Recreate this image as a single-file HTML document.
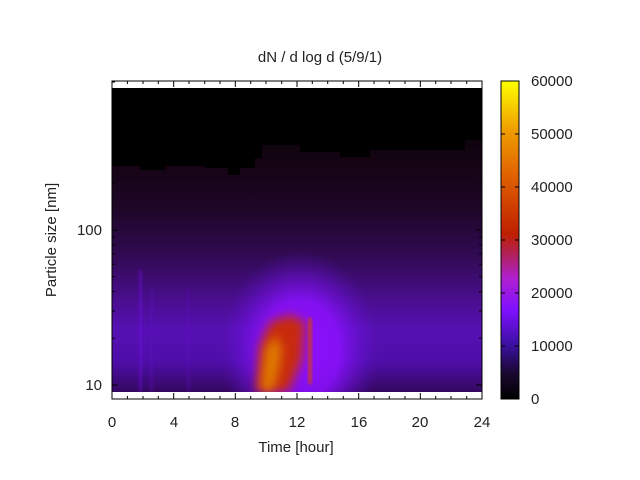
<!DOCTYPE html>
<html><head><style>body{margin:0;background:#fff}svg{display:block}text{font-family:"Liberation Sans","DejaVu Sans",sans-serif;font-size:15px;fill:#222}</style></head>
<body>
<svg width="640" height="480" viewBox="0 0 640 480">
<defs>
<linearGradient id="bg" x1="0" y1="88" x2="0" y2="392" gradientUnits="userSpaceOnUse">
<stop offset="0" stop-color="#000"/>
<stop offset="0.25" stop-color="#150414"/>
<stop offset="0.4" stop-color="#1e0628"/>
<stop offset="0.55" stop-color="#300a52"/>
<stop offset="0.7" stop-color="#4a0e90"/>
<stop offset="0.8" stop-color="#5610b4"/>
<stop offset="0.9" stop-color="#4e0ea8"/>
<stop offset="1" stop-color="#340860"/>
</linearGradient>
<radialGradient id="vio" cx="300" cy="350" r="80" gradientUnits="userSpaceOnUse" gradientTransform="translate(300 350) scale(1 1.25) translate(-300 -350)">
<stop offset="0" stop-color="#9010ff" stop-opacity="1"/>
<stop offset="0.5" stop-color="#8c10ff" stop-opacity="0.85"/>
<stop offset="0.8" stop-color="#7010e0" stop-opacity="0.35"/>
<stop offset="1" stop-color="#6010c0" stop-opacity="0"/>
</radialGradient>
<linearGradient id="cb" x1="0" y1="399" x2="0" y2="81" gradientUnits="userSpaceOnUse">
<stop offset="0" stop-color="#000"/>
<stop offset="0.08" stop-color="#1a0830"/>
<stop offset="0.17" stop-color="#3a10a0"/>
<stop offset="0.28" stop-color="#8010ff"/>
<stop offset="0.38" stop-color="#b020d0"/>
<stop offset="0.45" stop-color="#b02060"/>
<stop offset="0.52" stop-color="#c02000"/>
<stop offset="0.7" stop-color="#e06000"/>
<stop offset="0.85" stop-color="#f0a000"/>
<stop offset="1" stop-color="#ffff00"/>
</linearGradient>
<filter id="b2" x="-50%" y="-50%" width="200%" height="200%"><feGaussianBlur stdDeviation="5"/></filter>
<filter id="b3" x="-50%" y="-50%" width="200%" height="200%"><feGaussianBlur stdDeviation="1.5"/></filter>
<clipPath id="c"><rect x="112" y="88" width="370" height="304"/></clipPath>
</defs>
<g clip-path="url(#c)">
<rect x="112" y="88" width="370" height="304" fill="url(#bg)"/>
<rect x="112" y="240" width="370" height="152" fill="url(#vio)"/>
<rect x="139" y="270" width="3" height="122" fill="#7010e0" opacity="0.5" filter="url(#b3)"/>
<rect x="150" y="290" width="3" height="102" fill="#6010c0" opacity="0.4" filter="url(#b3)"/>
<rect x="187" y="290" width="3" height="102" fill="#6010c0" opacity="0.35" filter="url(#b3)"/>
<polygon points="256,392 260,345 270,322 290,315 305,322 302,360 288,392" fill="#c82a08" filter="url(#b2)"/>
<polygon points="261,390 265,350 275,335 282,348 278,375 272,392" fill="#e07a00" filter="url(#b2)"/>
<rect x="308.5" y="318" width="3" height="66" fill="#d04008" filter="url(#b3)"/>
<path d="M112 88 H482 V140 H465 V150 H370 V157 H340 V152 H300 V145 H262 V158 H255 V168 H240 V175 H228 V168 H205 V166 H165 V170 H140 V166 H112 Z" fill="#000"/>
</g>
<rect x="112" y="81" width="370" height="318" fill="none" stroke="#000" stroke-width="1"/>
<g stroke="#000" stroke-width="1">
<path d="M112 399v-6M112 81v6M173.7 399v-6M173.7 81v6M235.3 399v-6M235.3 81v6M297 399v-6M297 81v6M358.7 399v-6M358.7 81v6M420.3 399v-6M420.3 81v6M482 399v-6M482 81v6"/>
<path d="M127.4 399v-3M143 399v-3M158.3 399v-3M189 399v-3M204.7 399v-3M220 399v-3M250.7 399v-3M266 399v-3M281.7 399v-3M312.3 399v-3M327.7 399v-3M343.3 399v-3M374 399v-3M389.3 399v-3M405 399v-3M435.7 399v-3M451 399v-3M466.7 399v-3"/>
<path d="M127.4 81v3M143 81v3M158.3 81v3M189 81v3M204.7 81v3M220 81v3M250.7 81v3M266 81v3M281.7 81v3M312.3 81v3M327.7 81v3M343.3 81v3M374 81v3M389.3 81v3M405 81v3M435.7 81v3M451 81v3M466.7 81v3"/>
<path d="M112 385h6M482 385h-6M112 230h6M482 230h-6"/>
<path d="M112 338.3h3M112 311h3M112 291.6h3M112 276.6h3M112 264.3h3M112 253.9h3M112 244.9h3M112 237h3M112 183.3h3M112 156h3M112 136.6h3M112 121.6h3M112 109.3h3M112 98.9h3M112 89.9h3M112 82h3"/>
<path d="M482 338.3h-3M482 311h-3M482 291.6h-3M482 276.6h-3M482 264.3h-3M482 253.9h-3M482 244.9h-3M482 237h-3M482 183.3h-3M482 156h-3M482 136.6h-3M482 121.6h-3M482 109.3h-3M482 98.9h-3M482 89.9h-3"/>
</g>
<rect x="501" y="81" width="18" height="318" fill="url(#cb)" stroke="#000" stroke-width="1"/>
<g stroke="#000"><path d="M501 346h4M519 346h-4M501 293h4M519 293h-4M501 240h4M519 240h-4M501 187h4M519 187h-4M501 134h4M519 134h-4"/></g>
<g text-anchor="middle">
<text x="112" y="427">0</text><text x="174" y="427">4</text><text x="235" y="427">8</text><text x="297" y="427">12</text><text x="359" y="427">16</text><text x="420" y="427">20</text><text x="482" y="427">24</text>
<text x="296" y="452">Time [hour]</text>
<text x="320" y="62">dN / d log d (5/9/1)</text>
</g>
<g text-anchor="end"><text x="102" y="390">10</text><text x="102" y="235">100</text></g>
<g><text x="531" y="404">0</text><text x="531" y="351">10000</text><text x="531" y="298">20000</text><text x="531" y="245">30000</text><text x="531" y="192">40000</text><text x="531" y="139">50000</text><text x="531" y="86">60000</text></g>
<text transform="translate(56 240) rotate(-90)" text-anchor="middle">Particle size [nm]</text>
</svg>
</body></html>
